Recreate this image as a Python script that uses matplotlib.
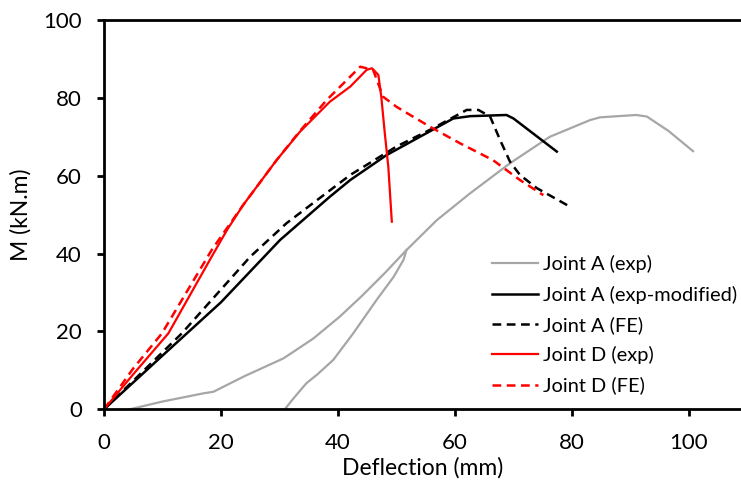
import matplotlib
matplotlib.use("Agg")
import matplotlib.pyplot as plt

# Joint A (exp): loading branch, then continuation to peak and softening
A_EXP_X = [4.4, 10.0, 17.0, 18.7, 24.0, 30.7, 35.8, 40.3, 44.0, 48.0, 51.7,
           56.9, 62.6, 69.4, 76.2, 83.1, 84.8, 91.0, 92.8, 96.5, 100.7]
A_EXP_Y = [0.0, 2.0, 4.1, 4.5, 8.5, 13.1, 18.2, 23.8, 29.0, 35.0, 40.9,
           48.6, 55.5, 63.2, 70.0, 74.3, 75.0, 75.6, 75.2, 71.5, 66.3]
# Joint A (exp): second branch of the loop
A_EXP2_X = [30.9, 32.5, 34.6, 36.5, 39.2, 42.6, 46.6, 49.5, 51.2, 51.7]
A_EXP2_Y = [0.0, 3.0, 6.7, 9.0, 12.7, 19.5, 28.1, 34.0, 38.4, 40.9]

# Joint A (exp-modified)
A_MOD_X = [0.0, 10.0, 20.0, 30.1, 38.6, 42.1, 48.3, 54.0, 59.7, 62.6, 68.8, 70.0, 77.4]
A_MOD_Y = [0.0, 13.8, 27.5, 43.5, 54.6, 58.9, 65.3, 70.0, 74.7, 75.3, 75.6, 74.7, 66.2]

# Joint A (FE)
A_FE_X = [0.0, 13.3, 25.0, 31.2, 42.1, 50.0, 56.0, 62.0, 64.0, 66.0, 67.7, 69.4, 71.1, 74.0, 79.7]
A_FE_Y = [0.0, 19.5, 39.2, 47.8, 60.2, 67.5, 72.0, 76.9, 76.9, 75.2, 69.2, 63.6, 60.2, 56.8, 52.0]

# Joint D (exp)
D_EXP_X = [0.0, 5.0, 11.0, 18.1, 21.0, 23.8, 29.5, 33.5, 38.6, 42.1, 44.9, 45.8,
           46.9, 47.4, 48.0, 48.6, 49.2]
D_EXP_Y = [0.0, 9.0, 19.5, 38.4, 46.0, 52.5, 64.0, 71.3, 79.0, 82.9, 87.2, 87.6,
           85.9, 80.3, 70.9, 62.3, 48.2]

# Joint D (FE)
D_FE_X = [0.0, 5.0, 9.9, 18.4, 21.0, 23.8, 29.5, 33.5, 38.1, 43.8, 46.0, 47.7,
          50.0, 55.7, 60.9, 66.5, 71.1, 75.1]
D_FE_Y = [0.0, 10.5, 19.5, 40.9, 46.5, 52.5, 64.0, 71.5, 79.5, 88.0, 87.2, 80.3,
          77.7, 72.6, 68.3, 64.0, 58.9, 55.0]

X_TICKS = [0, 20, 40, 60, 80, 100]
Y_TICKS = [0, 20, 40, 60, 80, 100]

plt.rcParams.update({"font.family": ["Lato", "DejaVu Sans"], "font.size": 16})

fig = plt.figure(figsize=(7.41, 4.93), dpi=100)
ax = fig.add_axes([104 / 741, 1 - 409.3 / 493, 1 - 104 / 741, (409.3 - 20) / 493])

grey = "#a6a6a6"
dash = (3.5, 2.2)
ax.plot(A_EXP_X, A_EXP_Y, color=grey, lw=1.6, label="Joint A (exp)")
ax.plot(A_EXP2_X, A_EXP2_Y, color=grey, lw=1.6)
ax.plot(A_MOD_X, A_MOD_Y, color="black", lw=1.8, label="Joint A (exp-modified)")
ax.plot(A_FE_X, A_FE_Y, color="black", lw=1.8, ls=(0, dash), label="Joint A (FE)")
ax.plot(D_EXP_X, D_EXP_Y, color="#ff0000", lw=1.6, label="Joint D (exp)")
ax.plot(D_FE_X, D_FE_Y, color="#ff0000", lw=1.8, ls=(0, dash), label="Joint D (FE)")

ax.set_xlim(0, (741 - 104) / 5.85)
ax.set_ylim(0, 100)
ax.set_xticks(X_TICKS)
ax.set_yticks(Y_TICKS)
ax.spines["right"].set_visible(False)
for s in ("left", "bottom", "top"):
    ax.spines[s].set_linewidth(2)
ax.tick_params(direction="out", length=5, width=2, labelsize=16)
ax.tick_params(axis="x", pad=12)
ax.tick_params(axis="y", pad=11)
ax.set_xlabel("Deflection (mm)", fontsize=16.5, labelpad=3)
ax.set_ylabel("M (kN.m)", fontsize=16.5, labelpad=8)

ax.legend(loc="upper left", bbox_to_anchor=(492 / 741, 1 - 255 / 493),
          bbox_transform=fig.transFigure, frameon=False, borderpad=0,
          borderaxespad=0, handlelength=2.3, handletextpad=0.25,
          labelspacing=0.62, fontsize=14.4)

fig.savefig("out.png", dpi=100)
